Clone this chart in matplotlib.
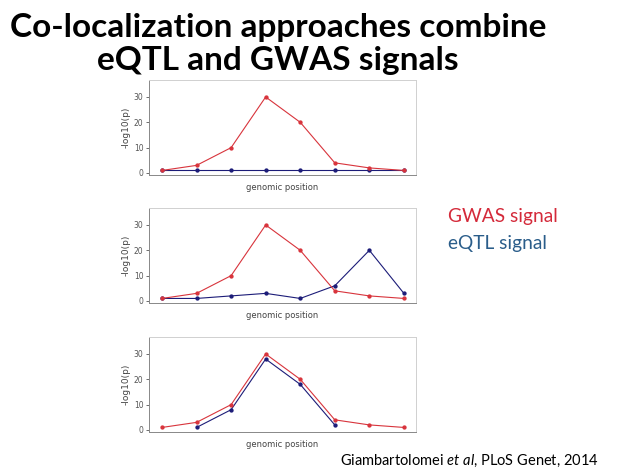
import matplotlib
matplotlib.use("Agg")
import matplotlib.pyplot as plt
import numpy as np

positions = [1, 2, 3, 4, 5, 6, 7, 8]
gwas = [1, 3, 10, 30, 20, 4, 2, 1]
eqtl_top = [1, 1, 1, 1, 1, 1, 1, 1]
eqtl_mid = [1, 1, 2, 3, 1, 6, 20, 3]
eqtl_bot = [np.nan, 1, 8, 28, 18, 2, np.nan, np.nan]
yticks = [0, 10, 20, 30]

RED = "#d8343c"
BLUE = "#1c1c78"
LEG_RED = "#d42a3a"
LEG_BLUE = "#2a5d8a"

plt.rcParams["mathtext.fontset"] = "custom"
plt.rcParams["mathtext.it"] = "Lato:italic"
plt.rcParams["mathtext.rm"] = "Lato"

fig = plt.figure(figsize=(6.44, 4.68), dpi=100)
fig.patch.set_facecolor("white")

W, H = 644, 468
def add_ax(x0, y0, x1, y1):
    return fig.add_axes([x0 / W, 1 - y1 / H, (x1 - x0) / W, (y1 - y0) / H])

panels = [(80, 175, eqtl_top), (208, 303, eqtl_mid), (337, 432, eqtl_bot)]
for top, bot, eq in panels:
    ax = add_ax(149, top, 416, bot)
    ax.plot(positions, gwas, color=RED, lw=0.8, marker="o", ms=2.1, zorder=3)
    ax.plot(positions, eq, color=BLUE, lw=0.8, marker="o", ms=2.1, zorder=2)
    ax.set_xlim(0.624, 8.35)
    ax.set_ylim(-0.8, 36.7)
    ax.set_xticks([])
    ax.set_yticks(yticks)
    ax.tick_params(axis="y", labelsize=5.5, colors="#555555", length=2.5, width=0.6, pad=1.5)
    for s in ["top", "right"]:
        ax.spines[s].set_color("#d0d0d0")
        ax.spines[s].set_linewidth(0.7)
    for s in ["left", "bottom"]:
        ax.spines[s].set_color("#888888")
        ax.spines[s].set_linewidth(0.7)
    ax.set_ylabel("-log10(p)", fontsize=6.5, color="#444444", labelpad=2)
    ax.set_xlabel("genomic position", fontsize=6, color="#444444", labelpad=6)

fig.text(278 / W, 1 - 37 / H, "Co-localization approaches combine", ha="center", va="baseline",
         fontsize=24, fontweight="bold", family="Lato", color="black")
fig.text(278 / W, 1 - 70 / H, "eQTL and GWAS signals", ha="center", va="baseline",
         fontsize=24, fontweight="bold", family="Lato", color="black")

fig.text(448 / W, 1 - 222 / H, "GWAS signal", ha="left", va="baseline", fontsize=13.8,
         family="Lato", color=LEG_RED)
fig.text(448 / W, 1 - 249 / H, "eQTL signal", ha="left", va="baseline", fontsize=13.8,
         family="Lato", color=LEG_BLUE)

fig.text(340 / W, 1 - 465 / H, "Giambartolomei $\\it{et\\ al}$, PLoS Genet, 2014", ha="left",
         va="baseline", fontsize=10.5, family="Lato", color="black")

fig.savefig("out.png", dpi=100, facecolor="white")
